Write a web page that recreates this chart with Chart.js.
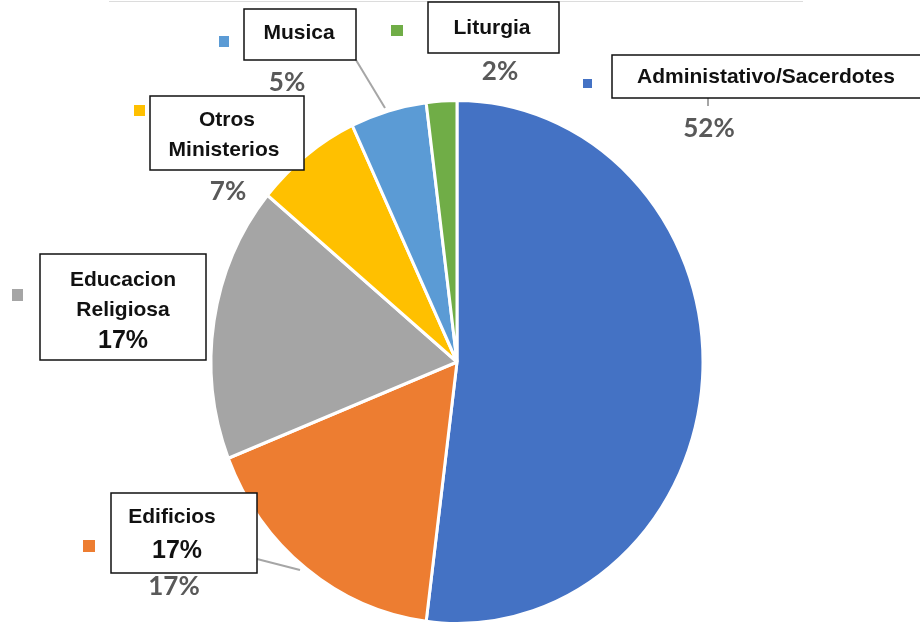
<!DOCTYPE html>
<html>
<head>
<meta charset="utf-8">
<script src="https://cdn.jsdelivr.net/npm/chart.js@4.4.1/dist/chart.umd.min.js"></script>
<style>
  body { margin: 0; background: #fff; }
  canvas { display: block; }
</style>
</head>
<body>
<canvas id="myChart" width="920" height="625"></canvas>
<script>
const categories = ["Administativo/Sacerdotes", "Edificios", "Educacion Religiosa", "Otros Ministerios", "Musica", "Liturgia"];
const values = [52, 17, 17, 7, 5, 2];
const sliceColors = ["#4472C4", "#ED7D31", "#A5A5A5", "#FFC000", "#5B9BD5", "#70AD47"];

// where each data label sits (same order as categories)
const labelLayout = [
  { box: [612, 55, 935, 98], lines: [[766, 77]], outPct: [709, 129], square: [583, 79, 9, 9], leader: [[708, 98], [708, 106]] },
  { box: [111, 493, 257, 573], lines: [[172, 517]], inPct: [177, 551], outPct: [174, 587], square: [83, 540, 12, 12], leader: [[257, 559], [300, 570]] },
  { box: [40, 254, 206, 360], lines: [[123, 280], [123, 310]], inPct: [123, 341], square: [12, 289, 11, 12] },
  { box: [150, 96, 304, 170], lines: [[227, 120], [224, 150]], outPct: [228, 192], square: [134, 105, 11, 11] },
  { box: [244, 9, 356, 60], lines: [[299, 33]], outPct: [287, 83], square: [219, 36, 10, 11], leader: [[356, 60], [385, 108]] },
  { box: [428, 2, 559, 53], lines: [[492, 28]], outPct: [500, 72], square: [391, 25, 12, 11] }
];

const yStretch = 261.5 / 246; // the original picture is squashed into an ellipse

const stretchPlugin = {
  id: "stretch",
  beforeDatasetsDraw(chart) {
    const meta = chart.getDatasetMeta(0);
    const cy = meta.data[0].y;
    const ctx = chart.ctx;
    ctx.save();
    ctx.translate(0, cy);
    ctx.scale(1, yStretch);
    ctx.translate(0, -cy);
  },
  afterDatasetsDraw(chart) {
    chart.ctx.restore();
  }
};

const boxLabels = {
  id: "boxLabels",
  afterDraw(chart) {
    const ctx = chart.ctx;
    const total = values.reduce((a, b) => a + b, 0);
    ctx.save();

    // faint frame edge at the top of the picture
    ctx.strokeStyle = "#dcdcdc";
    ctx.lineWidth = 1;
    ctx.beginPath();
    ctx.moveTo(109, 1.5);
    ctx.lineTo(803, 1.5);
    ctx.stroke();

    labelLayout.forEach((lay, i) => {
      const pct = Math.round(values[i] / total * 100) + "%";

      if (lay.leader) {
        ctx.strokeStyle = "#a6a6a6";
        ctx.lineWidth = 2;
        ctx.beginPath();
        ctx.moveTo(lay.leader[0][0], lay.leader[0][1]);
        ctx.lineTo(lay.leader[1][0], lay.leader[1][1]);
        ctx.stroke();
      }

      const [x1, y1, x2, y2] = lay.box;
      ctx.fillStyle = "#fff";
      ctx.fillRect(x1, y1, x2 - x1, y2 - y1);
      ctx.strokeStyle = "#111";
      ctx.lineWidth = 1.5;
      ctx.strokeRect(x1, y1, x2 - x1, y2 - y1);

      ctx.fillStyle = sliceColors[i];
      ctx.fillRect(lay.square[0], lay.square[1], lay.square[2], lay.square[3]);

      const words = lay.lines.length > 1 ? categories[i].split(" ") : [categories[i]];
      ctx.fillStyle = "#111";
      ctx.font = "bold 21px 'Liberation Sans', Arial, sans-serif";
      ctx.textAlign = "center";
      ctx.textBaseline = "middle";
      lay.lines.forEach((p, j) => ctx.fillText(words[j], p[0], p[1]));

      if (lay.inPct) {
        ctx.font = "bold 25px 'Liberation Sans', Arial, sans-serif";
        ctx.fillText(pct, lay.inPct[0], lay.inPct[1]);
      }
      if (lay.outPct) {
        ctx.fillStyle = "#595959";
        ctx.font = "bold 26px Lato, 'Open Sans', sans-serif";
        ctx.fillText(pct, lay.outPct[0], lay.outPct[1]);
      }
    });
    ctx.restore();
  }
};

const ctx = document.getElementById("myChart").getContext("2d");

const chart = new Chart(ctx, {
  type: "pie",
  data: {
    labels: categories,
    datasets: [{
      data: values,
      backgroundColor: sliceColors,
      borderColor: "#ffffff",
      borderWidth: 3,
      clip: false
    }]
  },
  options: {
    responsive: false,
    animation: false,
    layout: {
      padding: { left: 209.5, right: 215.5, top: 114.5, bottom: 15.5 }
    },
    plugins: {
      legend: { display: false },
      tooltip: { enabled: false }
    }
  },
  plugins: [stretchPlugin, boxLabels]
});
</script>
</body>
</html>
